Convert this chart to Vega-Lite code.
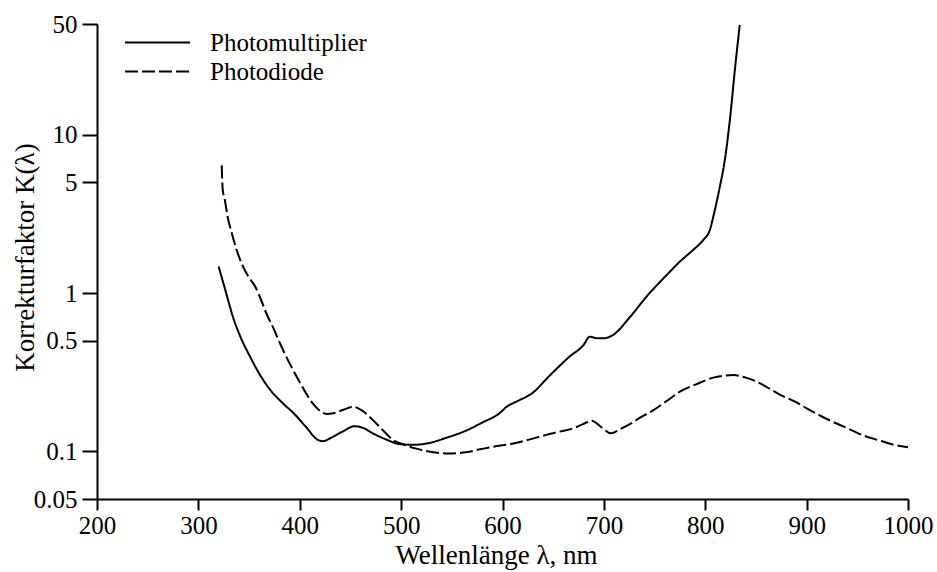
{
  "$schema": "https://vega.github.io/schema/vega-lite/v6.json",
  "width": 811,
  "height": 475,
  "autosize": {"type": "none"},
  "padding": {"left": 97, "top": 24, "right": 29, "bottom": 73},
  "background": "white",
  "config": {
    "view": {"stroke": null},
    "font": "Liberation Serif",
    "axis": {
      "domainColor": "black",
      "domainWidth": 2,
      "tickColor": "black",
      "tickWidth": 2,
      "labelColor": "black",
      "labelFont": "Liberation Serif",
      "labelFontSize": 25,
      "titleFont": "Liberation Serif",
      "titleFontSize": 27,
      "titleFontWeight": "normal",
      "titleColor": "black",
      "grid": false,
      "labelFlush": false,
      "labelOverlap": false
    }
  },
  "datasets": {
    "curves": [
      {"det": "Photomultiplier", "nm": 320, "k": 1.47},
      {"det": "Photomultiplier", "nm": 327, "k": 1.02},
      {"det": "Photomultiplier", "nm": 334, "k": 0.71},
      {"det": "Photomultiplier", "nm": 342, "k": 0.52},
      {"det": "Photomultiplier", "nm": 351, "k": 0.396},
      {"det": "Photomultiplier", "nm": 360, "k": 0.31},
      {"det": "Photomultiplier", "nm": 371, "k": 0.244},
      {"det": "Photomultiplier", "nm": 382, "k": 0.205},
      {"det": "Photomultiplier", "nm": 394, "k": 0.174},
      {"det": "Photomultiplier", "nm": 406, "k": 0.143},
      {"det": "Photomultiplier", "nm": 418, "k": 0.118},
      {"det": "Photomultiplier", "nm": 423, "k": 0.116},
      {"det": "Photomultiplier", "nm": 430, "k": 0.121},
      {"det": "Photomultiplier", "nm": 442, "k": 0.133},
      {"det": "Photomultiplier", "nm": 454, "k": 0.144},
      {"det": "Photomultiplier", "nm": 462, "k": 0.141},
      {"det": "Photomultiplier", "nm": 472, "k": 0.13},
      {"det": "Photomultiplier", "nm": 485, "k": 0.119},
      {"det": "Photomultiplier", "nm": 499, "k": 0.111},
      {"det": "Photomultiplier", "nm": 512, "k": 0.11},
      {"det": "Photomultiplier", "nm": 525, "k": 0.112},
      {"det": "Photomultiplier", "nm": 545, "k": 0.122},
      {"det": "Photomultiplier", "nm": 565, "k": 0.136},
      {"det": "Photomultiplier", "nm": 580, "k": 0.152},
      {"det": "Photomultiplier", "nm": 597, "k": 0.174},
      {"det": "Photomultiplier", "nm": 604, "k": 0.191},
      {"det": "Photomultiplier", "nm": 615, "k": 0.208},
      {"det": "Photomultiplier", "nm": 629, "k": 0.232},
      {"det": "Photomultiplier", "nm": 647, "k": 0.303},
      {"det": "Photomultiplier", "nm": 666, "k": 0.396},
      {"det": "Photomultiplier", "nm": 680, "k": 0.47},
      {"det": "Photomultiplier", "nm": 686, "k": 0.53},
      {"det": "Photomultiplier", "nm": 692, "k": 0.52},
      {"det": "Photomultiplier", "nm": 699, "k": 0.517},
      {"det": "Photomultiplier", "nm": 709, "k": 0.543},
      {"det": "Photomultiplier", "nm": 726, "k": 0.708},
      {"det": "Photomultiplier", "nm": 742, "k": 0.948},
      {"det": "Photomultiplier", "nm": 762, "k": 1.3},
      {"det": "Photomultiplier", "nm": 775, "k": 1.58},
      {"det": "Photomultiplier", "nm": 788, "k": 1.87},
      {"det": "Photomultiplier", "nm": 798, "k": 2.16},
      {"det": "Photomultiplier", "nm": 804.5, "k": 2.5},
      {"det": "Photomultiplier", "nm": 809.5, "k": 3.35},
      {"det": "Photomultiplier", "nm": 814.4, "k": 4.69},
      {"det": "Photomultiplier", "nm": 819.3, "k": 6.92},
      {"det": "Photomultiplier", "nm": 824.3, "k": 12.4},
      {"det": "Photomultiplier", "nm": 829.2, "k": 25.6},
      {"det": "Photomultiplier", "nm": 834, "k": 49.3},
      {"det": "Photodiode", "nm": 323, "k": 6.4},
      {"det": "Photodiode", "nm": 324, "k": 4.5},
      {"det": "Photodiode", "nm": 326, "k": 3.9},
      {"det": "Photodiode", "nm": 329, "k": 3.0},
      {"det": "Photodiode", "nm": 333, "k": 2.38},
      {"det": "Photodiode", "nm": 338, "k": 1.85},
      {"det": "Photodiode", "nm": 344, "k": 1.47},
      {"det": "Photodiode", "nm": 350, "k": 1.25},
      {"det": "Photodiode", "nm": 356, "k": 1.1},
      {"det": "Photodiode", "nm": 362, "k": 0.9},
      {"det": "Photodiode", "nm": 367, "k": 0.745},
      {"det": "Photodiode", "nm": 374, "k": 0.6},
      {"det": "Photodiode", "nm": 380.5, "k": 0.481},
      {"det": "Photodiode", "nm": 389, "k": 0.37},
      {"det": "Photodiode", "nm": 397, "k": 0.296},
      {"det": "Photodiode", "nm": 405, "k": 0.24},
      {"det": "Photodiode", "nm": 413, "k": 0.2},
      {"det": "Photodiode", "nm": 421, "k": 0.178},
      {"det": "Photodiode", "nm": 427, "k": 0.172},
      {"det": "Photodiode", "nm": 433, "k": 0.174},
      {"det": "Photodiode", "nm": 443, "k": 0.183},
      {"det": "Photodiode", "nm": 453, "k": 0.191},
      {"det": "Photodiode", "nm": 462, "k": 0.18},
      {"det": "Photodiode", "nm": 472, "k": 0.158},
      {"det": "Photodiode", "nm": 482, "k": 0.136},
      {"det": "Photodiode", "nm": 492, "k": 0.118},
      {"det": "Photodiode", "nm": 503, "k": 0.11},
      {"det": "Photodiode", "nm": 515, "k": 0.104},
      {"det": "Photodiode", "nm": 530, "k": 0.099},
      {"det": "Photodiode", "nm": 548, "k": 0.097},
      {"det": "Photodiode", "nm": 565, "k": 0.099},
      {"det": "Photodiode", "nm": 578, "k": 0.103},
      {"det": "Photodiode", "nm": 591, "k": 0.107},
      {"det": "Photodiode", "nm": 611, "k": 0.112},
      {"det": "Photodiode", "nm": 627, "k": 0.119},
      {"det": "Photodiode", "nm": 643, "k": 0.127},
      {"det": "Photodiode", "nm": 656, "k": 0.133},
      {"det": "Photodiode", "nm": 670, "k": 0.14},
      {"det": "Photodiode", "nm": 679, "k": 0.148},
      {"det": "Photodiode", "nm": 688, "k": 0.156},
      {"det": "Photodiode", "nm": 697, "k": 0.143},
      {"det": "Photodiode", "nm": 707, "k": 0.13},
      {"det": "Photodiode", "nm": 716, "k": 0.138},
      {"det": "Photodiode", "nm": 726, "k": 0.149},
      {"det": "Photodiode", "nm": 737, "k": 0.165},
      {"det": "Photodiode", "nm": 749, "k": 0.182},
      {"det": "Photodiode", "nm": 762, "k": 0.208},
      {"det": "Photodiode", "nm": 775, "k": 0.238},
      {"det": "Photodiode", "nm": 791, "k": 0.265},
      {"det": "Photodiode", "nm": 808, "k": 0.292},
      {"det": "Photodiode", "nm": 818, "k": 0.3},
      {"det": "Photodiode", "nm": 828, "k": 0.303},
      {"det": "Photodiode", "nm": 840, "k": 0.292},
      {"det": "Photodiode", "nm": 851, "k": 0.275},
      {"det": "Photodiode", "nm": 862, "k": 0.252},
      {"det": "Photodiode", "nm": 874, "k": 0.227},
      {"det": "Photodiode", "nm": 888, "k": 0.207},
      {"det": "Photodiode", "nm": 900, "k": 0.187},
      {"det": "Photodiode", "nm": 920, "k": 0.16},
      {"det": "Photodiode", "nm": 939, "k": 0.141},
      {"det": "Photodiode", "nm": 956, "k": 0.126},
      {"det": "Photodiode", "nm": 972, "k": 0.117},
      {"det": "Photodiode", "nm": 986, "k": 0.11},
      {"det": "Photodiode", "nm": 1000, "k": 0.106}
    ]
  },
  "data": {"name": "curves"},
  "mark": {"type": "line", "color": "black", "strokeWidth": 2, "interpolate": "monotone"},
  "encoding": {
    "x": {
      "field": "nm",
      "type": "quantitative",
      "scale": {"domain": [200, 1000], "nice": false, "zero": false},
      "axis": {
        "values": [200, 300, 400, 500, 600, 700, 800, 900, 1000],
        "format": "d",
        "tickSize": 11,
        "labelPadding": 3,
        "title": "Wellenlänge λ, nm",
        "titleX": 399,
        "titleY": 64,
        "titleBaseline": "alphabetic",
        "titleAnchor": "middle"
      }
    },
    "y": {
      "field": "k",
      "type": "quantitative",
      "scale": {"type": "log", "domain": [0.05, 50], "nice": false},
      "axis": {
        "values": [0.05, 0.1, 0.5, 1, 5, 10, 50],
        "format": "~g",
        "tickSize": 15,
        "labelPadding": 5,
        "title": "Korrekturfaktor K(λ)",
        "titleX": -64,
        "titleY": 233,
        "titleAngle": -90,
        "titleBaseline": "alphabetic",
        "titleAnchor": "middle"
      }
    },
    "strokeDash": {
      "field": "det",
      "type": "nominal",
      "scale": {"domain": ["Photomultiplier", "Photodiode"], "range": [[1, 0], [13, 4]]},
      "legend": {
        "orient": "none",
        "legendX": 27,
        "legendY": 5,
        "title": null,
        "padding": 0,
        "labelFont": "Liberation Serif",
        "labelFontSize": 25,
        "labelColor": "black",
        "labelOffset": 19,
        "symbolType": "stroke",
        "symbolSize": 4225,
        "symbolStrokeWidth": 2,
        "symbolStrokeColor": "black",
        "clipHeight": 27,
        "rowPadding": 2
      }
    }
  }
}
